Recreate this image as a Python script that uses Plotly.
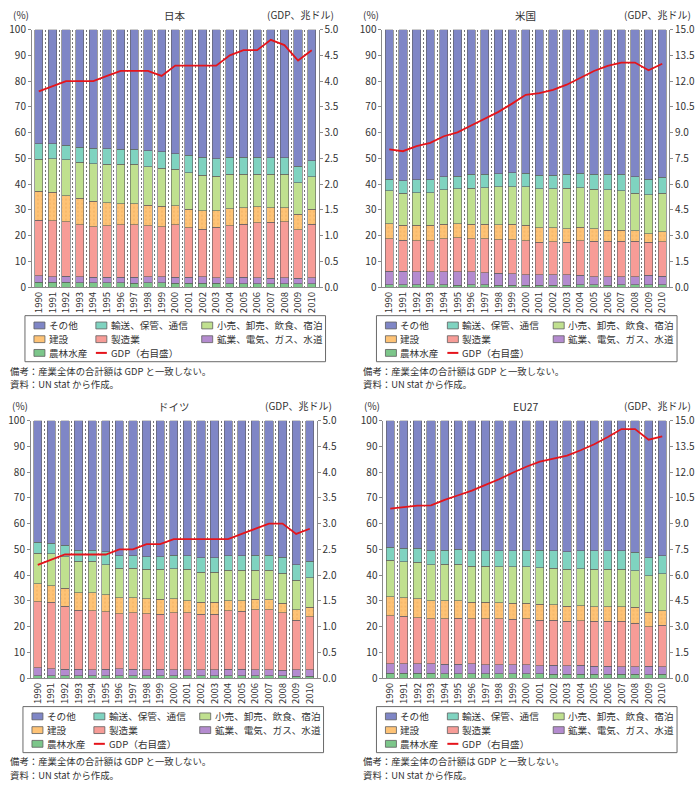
import plotly.graph_objects as go
from plotly.subplots import make_subplots

years = list(range(1990, 2011))

categories = ["農林水産", "鉱業、電気、ガス、水道", "製造業", "建設",
              "小売、卸売、飲食、宿泊", "輸送、保管、通信", "その他"]
colors = ["#7cc68a", "#b48bcf", "#f79c97", "#fec376", "#c0e08f", "#7fd3c0", "#7f86c6"]

# ---- Japan (shares, %) ----
jp_agri = [2.0, 1.9, 1.9, 1.8, 1.8, 1.7, 1.7, 1.6, 1.7, 1.7, 1.6, 1.5, 1.6, 1.5, 1.4, 1.4, 1.4, 1.4, 1.4, 1.4, 1.4]
jp_mining = [2.4, 2.2, 2.4, 2.2, 2.1, 2.1, 2.1, 2.2, 2.3, 2.3, 2.3, 2.4, 2.4, 2.2, 2.2, 2.4, 2.2, 2.1, 2.2, 2.0, 2.2]
jp_manuf = [21.6, 21.7, 21.1, 20.2, 19.6, 20.1, 20.4, 20.5, 19.8, 19.5, 20.3, 19.1, 18.6, 19.5, 20.3, 20.7, 21.4, 21.7, 21.9, 19.0, 20.9]
jp_constr = [11.2, 11.0, 10.2, 10.3, 9.8, 8.8, 8.3, 8.2, 8.0, 8.0, 7.4, 7.3, 7.1, 6.5, 6.6, 6.3, 6.2, 5.6, 5.3, 5.9, 5.7]
jp_retail = [12.5, 13.1, 13.9, 14.0, 14.7, 15.1, 15.3, 15.3, 14.9, 14.7, 14.1, 14.2, 13.8, 13.3, 13.3, 13.0, 12.6, 13.0, 13.0, 12.2, 12.6]
jp_transport = [5.9, 5.8, 5.7, 5.9, 5.9, 6.0, 5.7, 5.7, 6.3, 6.3, 6.1, 6.8, 6.9, 6.8, 6.7, 6.7, 6.7, 6.4, 6.5, 6.5, 6.2]
jp_other = [44.4, 44.3, 44.8, 45.6, 46.1, 46.2, 46.5, 46.5, 47.0, 47.5, 48.2, 48.7, 49.6, 50.2, 49.5, 49.5, 49.5, 49.8, 49.7, 53.0, 51.0]
jp_gdp = [3.8, 3.9, 4.0, 4.0, 4.0, 4.1, 4.2, 4.2, 4.2, 4.1, 4.3, 4.3, 4.3, 4.3, 4.5, 4.6, 4.6, 4.8, 4.7, 4.4, 4.6]

# ---- USA ----
us_agri = [1.0, 0.9, 0.9, 0.9, 0.9, 0.8, 0.9, 0.9, 0.8, 0.8, 0.8, 0.8, 0.8, 0.8, 0.9, 0.9, 0.8, 0.9, 0.9, 0.9, 1.0]
us_mining = [5.3, 5.3, 5.1, 5.1, 5.2, 5.3, 5.1, 4.8, 4.7, 4.4, 4.1, 4.1, 4.0, 4.1, 3.7, 3.2, 3.3, 3.2, 3.2, 3.7, 3.3]
us_manuf = [12.5, 12.1, 12.1, 12.1, 12.7, 13.1, 12.8, 13.1, 12.9, 13.2, 13.1, 12.5, 12.8, 12.5, 13.4, 13.7, 13.7, 13.7, 13.7, 12.8, 13.3]
us_constr = [5.9, 5.7, 5.9, 5.9, 5.7, 5.5, 5.7, 5.7, 5.8, 6.1, 6.1, 5.7, 5.5, 5.3, 5.2, 4.9, 4.4, 4.4, 4.2, 3.4, 4.0]
us_retail = [12.7, 12.5, 12.7, 12.7, 13.3, 13.5, 14.0, 14.2, 14.8, 14.6, 14.9, 15.1, 15.1, 15.8, 15.5, 15.4, 15.6, 15.2, 14.5, 15.1, 14.9]
us_transport = [4.6, 4.9, 5.1, 5.1, 5.1, 4.9, 5.3, 5.1, 5.0, 5.3, 5.3, 5.3, 5.3, 5.3, 5.6, 5.7, 6.0, 6.4, 6.3, 6.1, 6.1]
us_other = [58.0, 58.6, 58.2, 58.2, 57.1, 56.9, 56.2, 56.2, 56.0, 55.6, 55.7, 56.5, 56.5, 56.2, 55.7, 56.2, 56.2, 56.2, 57.2, 58.0, 57.4]
us_gdp = [8.03, 7.92, 8.22, 8.41, 8.79, 9.02, 9.42, 9.80, 10.21, 10.69, 11.20, 11.30, 11.49, 11.79, 12.17, 12.59, 12.89, 13.08, 13.08, 12.63, 13.01]

# ---- Germany ----
de_agri = [1.0, 0.9, 0.9, 0.9, 0.9, 0.9, 0.9, 0.9, 0.9, 0.9, 0.9, 0.9, 0.9, 0.9, 0.9, 0.9, 0.9, 0.9, 0.9, 0.8, 0.8]
de_mining = [3.0, 2.8, 2.6, 2.6, 2.4, 2.6, 2.8, 2.5, 2.4, 2.5, 2.3, 2.3, 2.3, 2.3, 2.6, 2.5, 2.3, 2.3, 2.1, 2.5, 2.4]
de_manuf = [25.6, 25.7, 24.5, 22.8, 22.8, 22.2, 21.4, 22.0, 21.8, 21.5, 22.2, 22.2, 21.6, 21.6, 22.6, 22.5, 23.3, 23.4, 22.3, 19.2, 20.7]
de_constr = [7.0, 6.4, 6.9, 6.9, 7.1, 6.7, 6.2, 5.9, 5.7, 5.7, 5.5, 4.7, 4.7, 4.7, 4.0, 4.2, 4.1, 3.8, 3.7, 4.0, 3.7]
de_retail = [11.9, 12.4, 12.2, 12.1, 12.1, 11.7, 11.4, 11.4, 11.4, 11.6, 11.5, 12.1, 11.6, 11.6, 11.8, 11.7, 11.3, 11.4, 11.8, 11.5, 11.4]
de_transport = [4.3, 4.1, 4.5, 4.4, 4.4, 5.0, 4.8, 4.8, 5.0, 5.0, 5.4, 5.3, 5.7, 5.7, 5.7, 5.7, 5.9, 6.0, 6.2, 6.1, 6.3]
de_other = [47.2, 47.7, 48.4, 50.3, 50.3, 50.9, 52.5, 52.5, 52.8, 52.8, 52.2, 52.5, 53.2, 53.2, 52.4, 52.5, 52.2, 52.2, 53.0, 55.9, 54.7]
de_gdp = [2.2, 2.3, 2.4, 2.4, 2.4, 2.4, 2.5, 2.5, 2.6, 2.6, 2.7, 2.7, 2.7, 2.7, 2.7, 2.8, 2.9, 3.0, 3.0, 2.8, 2.9]

# ---- EU27 ----
eu_agri = [2.0, 1.9, 1.9, 1.9, 1.8, 1.8, 1.8, 1.8, 1.7, 1.7, 1.7, 1.7, 1.6, 1.6, 1.6, 1.5, 1.5, 1.5, 1.5, 1.4, 1.5]
eu_mining = [3.6, 3.7, 3.7, 3.7, 3.6, 3.6, 3.8, 3.5, 3.5, 3.5, 3.5, 3.2, 3.5, 3.2, 3.5, 3.2, 3.2, 2.9, 2.9, 3.2, 2.9]
eu_manuf = [18.6, 18.5, 17.9, 17.4, 17.6, 17.9, 17.4, 17.7, 17.8, 17.6, 17.8, 17.6, 17.3, 17.2, 17.2, 17.3, 17.3, 17.6, 17.0, 15.4, 16.2]
eu_constr = [7.4, 7.2, 7.3, 7.0, 7.0, 6.7, 6.5, 6.5, 6.2, 6.2, 6.0, 6.1, 6.1, 6.0, 5.9, 5.8, 5.8, 5.8, 6.1, 5.6, 5.5]
eu_retail = [14.1, 13.9, 14.1, 14.1, 14.2, 14.2, 14.0, 14.0, 14.1, 14.2, 14.2, 14.3, 14.2, 14.2, 14.3, 14.4, 14.4, 14.4, 14.1, 14.1, 14.4]
eu_transport = [5.2, 5.2, 5.5, 5.6, 5.5, 5.8, 5.9, 5.9, 6.1, 6.2, 6.5, 6.8, 6.7, 6.9, 6.9, 7.2, 7.2, 7.2, 7.3, 7.1, 7.1]
eu_other = [49.1, 49.6, 49.6, 50.3, 50.3, 50.0, 50.6, 50.6, 50.6, 50.6, 50.3, 50.3, 50.6, 50.9, 50.6, 50.6, 50.6, 50.6, 51.1, 53.2, 52.4]
eu_gdp = [9.87, 9.96, 10.04, 10.06, 10.38, 10.65, 10.92, 11.25, 11.58, 11.96, 12.31, 12.60, 12.79, 12.96, 13.27, 13.62, 14.04, 14.5, 14.5, 13.88, 14.08]

W, H = 700, 791
def X(px):
    return px / W
def Y(py):
    return 1 - py / H

FONT = "Noto Sans CJK JP, Noto Sans, sans-serif"
TXT = "#333333"
AX = "#8a8a8a"

panels = [
    dict(title="日本", shares=[jp_agri, jp_mining, jp_manuf, jp_constr, jp_retail, jp_transport, jp_other],
         gdp=jp_gdp, gmax=5.0, gdt=0.5, row=1, col=1,
         px=(31, 318), py=(21, 284), box=(24, 325, 313, 360), note_x=8),
    dict(title="米国", shares=[us_agri, us_mining, us_manuf, us_constr, us_retail, us_transport, us_other],
         gdp=us_gdp, gmax=15.0, gdt=1.5, row=1, col=2,
         px=(382, 669), py=(21, 284), box=(376, 677, 313, 360), note_x=362),
    dict(title="ドイツ", shares=[de_agri, de_mining, de_manuf, de_constr, de_retail, de_transport, de_other],
         gdp=de_gdp, gmax=5.0, gdt=0.5, row=2, col=1,
         px=(30, 316), py=(420, 683), box=(22, 323, 712, 759), note_x=8),
    dict(title="EU27", shares=[eu_agri, eu_mining, eu_manuf, eu_constr, eu_retail, eu_transport, eu_other],
         gdp=eu_gdp, gmax=15.0, gdt=1.5, row=2, col=2,
         px=(383, 669), py=(420, 683), box=(376, 677, 712, 759), note_x=362),
]

fig = make_subplots(rows=2, cols=2,
                    specs=[[{"secondary_y": True}, {"secondary_y": True}],
                           [{"secondary_y": True}, {"secondary_y": True}]])

annotations = []
shapes = []

legend_items = [
    ("その他", 6, 0, 0), ("輸送、保管、通信", 5, 1, 0), ("小売、卸売、飲食、宿泊", 4, 2, 0),
    ("建設", 3, 0, 1), ("製造業", 2, 1, 1), ("鉱業、電気、ガス、水道", 1, 2, 1),
    ("農林水産", 0, 0, 2), ("GDP（右目盛）", "line", 1, 2),
]
col_sw = [9, 71, 177]

def note(text, x, y, size=10, anchor="left"):
    return dict(text=text, x=x, y=y, xref="paper", yref="paper", xanchor=anchor,
                yanchor="middle", showarrow=False, borderpad=0,
                font=dict(size=size, color=TXT))

for p in panels:
    r, c = p["row"], p["col"]
    for name, vals, colr in zip(categories, p["shares"], colors):
        mk = dict(color=colr, line=dict(color="#5e5e5e", width=0.6))
        if name == "建設":
            mk["pattern"] = dict(shape=".", fgcolor="#e39a4a", size=4, solidity=0.15)
        fig.add_trace(go.Bar(x=years, y=vals, name=name, width=0.6, marker=mk,
                             showlegend=False, hoverinfo="skip"),
                      row=r, col=c, secondary_y=False)
    fig.add_trace(go.Scatter(x=years, y=p["gdp"], mode="lines", name="GDP（右目盛）",
                             line=dict(color="#e5141b", width=1.8), showlegend=False),
                  row=r, col=c, secondary_y=True)

    x0, x1 = p["px"]
    y0, y1 = p["py"]
    fig.update_xaxes(domain=[X(x0), X(x1)], range=[1989.5, 2010.5],
                     tickmode="linear", tick0=1990, dtick=1, tickangle=-90,
                     showgrid=False, showline=True, linecolor=AX, linewidth=1,
                     ticks="", tickfont=dict(size=9.5, color=TXT),
                     minor=dict(tick0=1989.5, dtick=1, showgrid=True, gridcolor="#777777",
                                griddash="2px,2px", gridwidth=1, ticks=""),
                     row=r, col=c)
    fig.update_yaxes(domain=[Y(y1), Y(y0)], range=[0, 100], tickmode="linear", tick0=0, dtick=10,
                     showgrid=False, zeroline=False, showline=True, linecolor=AX, linewidth=1,
                     ticks="outside", ticklen=3, tickcolor=AX, tickfont=dict(size=10, color=TXT),
                     row=r, col=c, secondary_y=False)
    fig.update_yaxes(range=[0, p["gmax"]], tickmode="linear", tick0=0, dtick=p["gdt"],
                     tickformat=".1f", showgrid=False, zeroline=False, showline=True,
                     linecolor=AX, linewidth=1, ticks="outside", ticklen=3, tickcolor=AX,
                     tickfont=dict(size=10, color=TXT),
                     row=r, col=c, secondary_y=True)

    # titles and unit labels
    ty = y0 - 15.5
    annotations.append(note(p["title"], X((x0 + x1) / 2), Y(ty + 1.5), 10.5, "center"))
    annotations.append(note("(%)", X(x0 - 20), Y(ty), 10))
    annotations.append(note("(GDP、兆ドル)", X(x1 + 16 + (7 if c == 2 else 0)), Y(ty), 10, "right"))

    # legend box
    bx0, bx1, by0, by1 = p["box"]
    shapes.append(dict(type="rect", xref="paper", yref="paper", x0=X(bx0), x1=X(bx1),
                       y0=Y(by1), y1=Y(by0), line=dict(color="#6a6a6a", width=1),
                       fillcolor="rgba(0,0,0,0)"))
    for label, ci, colk, rowk in legend_items:
        cy = by0 + 10 + rowk * 14
        sx = bx0 + col_sw[colk]
        if ci == "line":
            shapes.append(dict(type="line", xref="paper", yref="paper", x0=X(sx), x1=X(sx + 11),
                               y0=Y(cy), y1=Y(cy), line=dict(color="#e5141b", width=2)))
        else:
            shapes.append(dict(type="rect", xref="paper", yref="paper", x0=X(sx), x1=X(sx + 11),
                               y0=Y(cy + 3.5), y1=Y(cy - 3.5), fillcolor=colors[ci],
                               line=dict(color="#5e5e5e", width=0.8)))
        annotations.append(note(label, X(sx + 14), Y(cy), 9.6))
    # notes
    annotations.append(note("備考：産業全体の合計額は GDP と一致しない。", X(p["note_x"]), Y(by1 + 9), 9.4))
    annotations.append(note("資料：UN stat から作成。", X(p["note_x"]), Y(by1 + 22.8), 9.4))

fig.update_layout(width=W, height=H, margin=dict(l=0, r=0, t=0, b=0),
                  barmode="stack", plot_bgcolor="white", paper_bgcolor="white",
                  font=dict(family=FONT, size=10, color=TXT),
                  showlegend=False, annotations=annotations, shapes=shapes)

fig.write_html("out.html")
